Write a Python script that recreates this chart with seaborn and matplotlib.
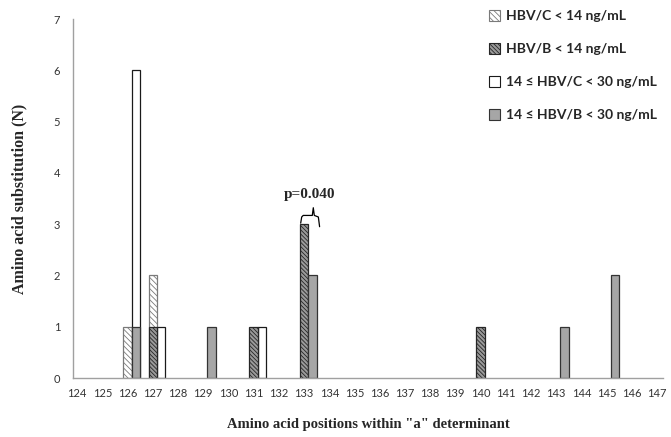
import pandas as pd
import seaborn as sns
import matplotlib.pyplot as plt
from matplotlib.patches import Patch
import numpy as np

# amino acid positions on the x axis
positions = [str(p) for p in range(124, 148)]

# HBV/C, the two HBsAg levels (position -> count)
c_low_pos = ['126', '127']
c_low_n = [1, 2]
c_mid_pos = ['126', '127', '131']
c_mid_n = [6, 1, 1]

# HBV/B
b_low_pos = ['127', '131', '133', '140']
b_low_n = [1, 1, 3, 1]
b_mid_pos = ['126', '129', '133', '143', '145']
b_mid_n = [1, 1, 2, 1, 2]

legend_labels = ['HBV/C < 14 ng/mL', 'HBV/B < 14 ng/mL',
                 '14 \u2264 HBV/C < 30 ng/mL', '14 \u2264 HBV/B < 30 ng/mL']

df_c = pd.DataFrame({'pos': c_low_pos + c_mid_pos,
                     'n': c_low_n + c_mid_n,
                     'level': ['low'] * len(c_low_pos) + ['mid'] * len(c_mid_pos)})
df_b = pd.DataFrame({'pos': b_low_pos + b_mid_pos,
                     'n': b_low_n + b_mid_n,
                     'level': ['low'] * len(b_low_pos) + ['mid'] * len(b_mid_pos)})

sns.set_style('white')
plt.rcParams['hatch.linewidth'] = 0.6

fig = plt.figure(figsize=(6.71, 4.37), dpi=100)
ax = fig.add_axes([0.1085, 0.135, 0.8795, 0.8215])

# HBV/C first, HBV/B drawn on top
sns.barplot(data=df_c, x='pos', y='n', hue='level', order=positions,
            hue_order=['low', 'mid'], palette=['white', 'white'],
            width=0.667, legend=False, ax=ax)
sns.barplot(data=df_b, x='pos', y='n', hue='level', order=positions,
            hue_order=['low', 'mid'], palette=['white', '#a6a6a6'],
            width=0.667, legend=False, ax=ax)

light = ('white', '#7a7a7a', '\\' * 6)
dark = ('#9a9a9a', '#262626', '\\' * 8)
empty = ('white', '#1a1a1a', '')
grey = ('#a6a6a6', '#333333', '')

# containers come out as C-low, C-mid, B-low, B-mid
for cont, (fc, ec, ht) in zip(ax.containers, [light, empty, dark, grey]):
    for bar in cont:
        bar.set_facecolor(fc)
        bar.set_edgecolor(ec)
        bar.set_hatch(ht)
        bar.set_linewidth(0.9)

ax.set_xlim(-0.34, 23.07)
ax.set_ylim(0, 7)
ax.set_yticks(range(0, 8))
ax.set_xticks(np.arange(len(positions)) - 0.167)
ax.set_xticklabels(positions)
ax.set_xticks(np.arange(-1 / 3, 23.1, 1 / 3), minor=True)
ax.tick_params(axis='x', which='major', length=0, pad=7, labelsize=8, labelcolor='#333333')
ax.tick_params(axis='x', which='minor', length=3, width=0.8, color='#a0a0a0', direction='out')
ax.tick_params(axis='y', length=0, pad=9, labelsize=8, labelcolor='#333333')
for lab in ax.get_xticklabels() + ax.get_yticklabels():
    lab.set_family(['Lato', 'DejaVu Sans'])

sns.despine(ax=ax)
for side in ['left', 'bottom']:
    ax.spines[side].set_color('#a0a0a0')
    ax.spines[side].set_linewidth(1.0)

serif = 'Liberation Serif'
ax.set_xlabel('Amino acid positions within "a" determinant', family=serif,
              fontsize=10.5, fontweight='bold', labelpad=14)
ax.set_ylabel('Amino acid substitution (N)', family=serif,
              fontsize=11.5, fontweight='bold', labelpad=19)

# p-value bracket over position 133
bx = [8.70, 8.74, 8.80, 9.16, 9.20, 9.24, 9.40, 9.45]
by = [3.02, 3.14, 3.17, 3.17, 3.32, 3.17, 3.14, 2.95]
ax.plot(bx, by, color='black', lw=0.9)
ax.text(9.05, 3.45, 'p=0.040', family=serif, fontsize=11, fontweight='bold',
        ha='center', va='bottom')

handles = [Patch(facecolor=fc, edgecolor=ec, hatch=ht, linewidth=0.8)
           for fc, ec, ht in [light, dark, empty, grey]]
fig.legend(handles, legend_labels, loc='upper left', bbox_to_anchor=(0.71, 1.005),
           frameon=False, handlelength=0.8, handleheight=0.8, handletextpad=0.4,
           labelspacing=1.5, prop={'family': ['Lato', 'DejaVu Sans'], 'weight': 'bold', 'size': 10})

fig.savefig('out.png', dpi=100)
